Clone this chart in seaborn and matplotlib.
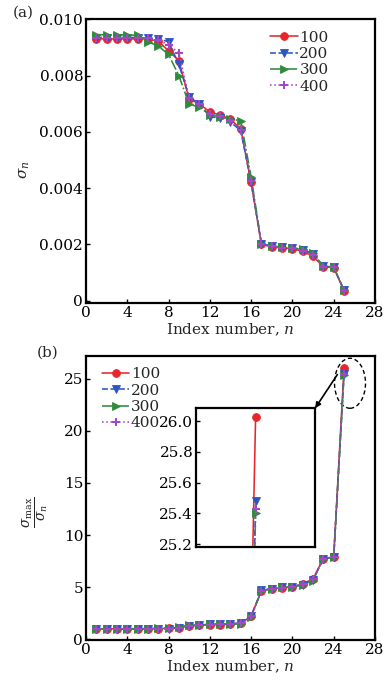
import numpy as np
import pandas as pd
import matplotlib
matplotlib.use("Agg")
import matplotlib.pyplot as plt
from matplotlib.patches import Ellipse
import seaborn as sns

# ---- data -------------------------------------------------------------
index_n = list(range(1, 26))
series_names = ["100", "200", "300", "400"]

sigma_100 = [0.00930, 0.00930, 0.00930, 0.00930, 0.00930, 0.00930, 0.00922, 0.00888, 0.00853,
             0.00716, 0.00700, 0.00670, 0.00660, 0.00645, 0.00610, 0.00420, 0.00200, 0.00192,
             0.00188, 0.00185, 0.00175, 0.00158, 0.00120, 0.00118, 0.00035]
sigma_200 = [0.00935, 0.00935, 0.00935, 0.00935, 0.00935, 0.00933, 0.00930, 0.00920, 0.00840,
             0.00723, 0.00700, 0.00653, 0.00650, 0.00635, 0.00604, 0.00420, 0.00202, 0.00194,
             0.00190, 0.00187, 0.00180, 0.00166, 0.00122, 0.00120, 0.00037]
sigma_300 = [0.00945, 0.00945, 0.00945, 0.00944, 0.00943, 0.00920, 0.00905, 0.00875, 0.00800,
             0.00698, 0.00688, 0.00660, 0.00653, 0.00646, 0.00639, 0.00440, 0.00203, 0.00194,
             0.00190, 0.00188, 0.00182, 0.00168, 0.00122, 0.00120, 0.00037]
sigma_400 = [0.00935, 0.00935, 0.00935, 0.00935, 0.00935, 0.00932, 0.00925, 0.00910, 0.00880,
             0.00720, 0.00700, 0.00665, 0.00655, 0.00640, 0.00608, 0.00425, 0.00201, 0.00193,
             0.00189, 0.00186, 0.00178, 0.00162, 0.00121, 0.00119, 0.00036]

ratio_100 = [1.00, 1.00, 1.00, 1.00, 1.00, 1.00, 1.01, 1.05, 1.09, 1.30, 1.33, 1.39, 1.41,
             1.44, 1.52, 2.21, 4.65, 4.84, 4.95, 5.03, 5.31, 5.80, 7.75, 7.88, 26.03]
ratio_200 = [1.01, 1.01, 1.01, 1.01, 1.01, 1.01, 1.02, 1.03, 1.12, 1.31, 1.35, 1.43, 1.45,
             1.49, 1.56, 2.25, 4.68, 4.87, 4.97, 5.05, 5.25, 5.70, 7.75, 7.88, 25.48]
ratio_300 = [1.00, 1.00, 1.00, 1.00, 1.00, 1.03, 1.04, 1.08, 1.18, 1.35, 1.37, 1.43, 1.45,
             1.46, 1.48, 2.15, 4.65, 4.87, 4.97, 5.03, 5.19, 5.63, 7.75, 7.88, 25.40]
ratio_400 = [1.00, 1.00, 1.00, 1.00, 1.00, 1.00, 1.01, 1.03, 1.06, 1.30, 1.34, 1.41, 1.43,
             1.46, 1.54, 2.20, 4.66, 4.85, 4.96, 5.04, 5.27, 5.77, 7.75, 7.88, 25.43]

sigma_series = [sigma_100, sigma_200, sigma_300, sigma_400]
ratio_series = [ratio_100, ratio_200, ratio_300, ratio_400]

# ---- styling ----------------------------------------------------------
sns.set_theme(style="ticks")
plt.rcParams["font.family"] = ["DejaVu Serif"]
plt.rcParams["mathtext.fontset"] = "dejavuserif"
plt.rcParams["xtick.direction"] = "in"
plt.rcParams["ytick.direction"] = "in"

colors = ["#e8262a", "#2b55c4", "#2e8b3c", "#a646c8"]
markers = ["o", "v", ">", "P"]
dashes = ["-", "--", "-.", ":"]
marker_sizes = [5.6, 5.6, 5.6, 5.2]

FS = 11

fig = plt.figure(figsize=(3.87, 6.87), dpi=100)
ax_a = fig.add_axes([0.222, 0.559, 0.747, 0.413])
ax_b = fig.add_axes([0.222, 0.068, 0.747, 0.414])


def draw_series(ax, series, with_labels=True):
    for name, vals, c, m, ls, ms in zip(series_names, series, colors, markers, dashes, marker_sizes):
        df = pd.DataFrame({"n": index_n, "v": vals})
        sns.lineplot(data=df, x="n", y="v", ax=ax, color=c, marker=m, linestyle=ls,
                     linewidth=1.15, markersize=ms, markeredgewidth=0.6 if m != "P" else 0,
                     markeredgecolor=c, label=name if with_labels else None, legend=False)


def style_axes(ax):
    for s in ax.spines.values():
        s.set_linewidth(1.6)
        s.set_color("black")
    ax.tick_params(axis="both", labelsize=FS, length=3, width=1, top=False, right=False,
                   colors="black", pad=2)
    ax.set_xlabel("Index number, $n$", fontsize=FS, labelpad=1)
    ax.set_ylabel("")


legend_kw = dict(frameon=False, fontsize=FS, handlelength=1.8, handletextpad=0.1,
                 labelspacing=0.15, borderpad=0.1, borderaxespad=0.0)

# (a) singular values
draw_series(ax_a, sigma_series)
ax_a.set_xlim(0, 28)
ax_a.set_ylim(-0.00008, 0.0100)
ax_a.set_xticks(range(0, 29, 4))
ax_a.set_yticks([0, 0.002, 0.004, 0.006, 0.008, 0.010])
ax_a.set_yticklabels(["0", "0.002", "0.004", "0.006", "0.008", "0.010"])
style_axes(ax_a)
ax_a.legend(loc="upper right", bbox_to_anchor=(0.845, 0.965), **legend_kw)

# (b) condition ratio
draw_series(ax_b, ratio_series)
ax_b.set_xlim(0, 28)
ax_b.set_ylim(-0.1, 27.2)
ax_b.set_xticks(range(0, 29, 4))
ax_b.set_yticks([0, 5, 10, 15, 20, 25])
style_axes(ax_b)
ax_b.legend(loc="upper left", bbox_to_anchor=(0.05, 0.965), **legend_kw)

# zoomed view of the last index
ins = ax_b.inset_axes([0.381, 0.327, 0.412, 0.489])
draw_series(ins, ratio_series, with_labels=False)
ins.set_xlim(24.0, 26.0)
ins.set_ylim(25.18, 26.085)
ins.set_xticks([])
ins.set_yticks([25.2, 25.4, 25.6, 25.8, 26.0])
ins.set_yticklabels(["25.2", "25.4", "25.6", "25.8", "26.0"])
ins.set_xlabel("")
ins.set_ylabel("")
for s in ins.spines.values():
    s.set_linewidth(1.6)
    s.set_color("black")
ins.tick_params(axis="y", labelsize=FS, length=3, width=1, pad=2, colors="black")
ins.set_facecolor("white")

ell = Ellipse((25.58, 24.57), 3.0, 4.8, fill=False, linestyle=(0, (3, 2)), linewidth=1.0,
              edgecolor="black", clip_on=False)
ax_b.add_patch(ell)
ax_b.annotate("", xy=(1.0, 1.0), xycoords=ins.transAxes, xytext=(24.35, 25.4),
              textcoords="data",
              arrowprops=dict(arrowstyle="-|>", color="black", lw=1.2, mutation_scale=8,
                              shrinkA=0, shrinkB=0))

# axis titles and panel tags
fig.text(0.065, 0.753, r"$\sigma_n$", rotation=90, fontsize=FS, ha="center", va="center")
fig.text(0.093, 0.255, r"$\frac{\sigma_{\rm max}}{\sigma_n}$", rotation=90, fontsize=FS + 3,
         ha="center", va="center")
fig.text(0.033, 0.982, "(a)", fontsize=FS, ha="left", va="center")
fig.text(0.095, 0.487, "(b)", fontsize=FS, ha="left", va="center")

fig.savefig("out.png", dpi=100)
